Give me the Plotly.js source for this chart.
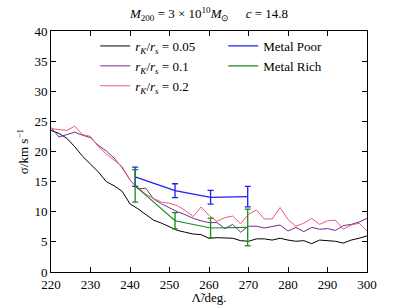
<!DOCTYPE html>
<html>
<head>
<meta charset="utf-8">
<script src="https://cdn.plot.ly/plotly-3.0.1.min.js"></script>
<style>html,body{margin:0;padding:0;background:#fff;}#chart{width:407px;height:305px;}</style>
</head>
<body>
<div id="chart"></div>
<script>
const lambdaDeg = [220,222,224,226,228,230,232,234,236,238,240,242,244,246,248,250,252,254,256,258,260,262,264,266,268,270,272,274,276,278,280,282,284,286,288,290,292,294,296,298,300];
const sigma005 = [23.5,23.0,22.2,20.8,19.2,17.9,16.6,15.0,14.3,13.4,11.3,10.5,9.6,8.6,8.1,7.5,6.9,6.6,6.3,6.2,5.6,5.7,5.7,5.6,5.2,5.1,5.5,5.5,5.3,5.6,5.3,5.1,5.2,4.7,5.3,5.2,5.1,4.8,5.3,5.6,6.0];
const sigma01 = [24.0,22.4,22.8,23.2,22.7,22.3,21.0,20.1,18.9,17.3,15.3,13.8,13.9,12.1,11.3,10.6,10.0,9.5,8.9,8.5,8.2,8.2,7.2,7.9,6.6,7.6,7.6,7.3,7.6,7.8,6.8,7.4,6.7,7.4,7.1,7.2,6.9,7.7,7.9,8.3,8.9];
const sigma02 = [23.8,23.6,23.5,24.2,22.8,22.5,20.8,19.6,18.6,17.5,15.2,14.0,12.9,12.2,11.6,11.4,11.0,10.2,9.2,10.8,9.4,8.4,9.0,9.3,8.0,9.6,10.3,8.8,8.8,10.7,8.7,7.6,8.1,8.9,7.9,8.5,8.6,7.1,7.8,8.1,6.8];
const metalLambda = [241.3,251.4,260.4,269.8];
const metalPoor = [15.8,13.5,12.4,12.5];
const metalPoorErr = [1.6,1.15,1.15,1.7];
const metalRich = [14.3,8.5,7.3,7.4];
const metalRichErr = [2.7,1.35,1.65,3.05];
const xTicks = [220,230,240,250,260,270,280,290,300];
const yTicks = [0,5,10,15,20,25,30,35,40];

const F = 'Liberation Serif';
const traces = [
  {x: lambdaDeg, y: sigma005, mode: 'lines', name: '<i>r</i><sub><i>K</i></sub>/<i>r</i><sub><i>s</i></sub> = 0.05', line: {color: '#000000', width: 1}, legend: 'legend'},
  {x: lambdaDeg, y: sigma01, mode: 'lines', name: '<i>r</i><sub><i>K</i></sub>/<i>r</i><sub><i>s</i></sub> = 0.1', line: {color: '#6f2c91', width: 1}, legend: 'legend'},
  {x: lambdaDeg, y: sigma02, mode: 'lines', name: '<i>r</i><sub><i>K</i></sub>/<i>r</i><sub><i>s</i></sub> = 0.2', line: {color: '#ec5b78', width: 1}, legend: 'legend'},
  {x: metalLambda, y: metalPoor, mode: 'lines', name: 'Metal Poor', line: {color: '#1f1fee', width: 1.2},
   error_y: {type: 'data', array: metalPoorErr, visible: true, color: '#1f1fee', thickness: 1.3, width: 3}, legend: 'legend2'},
  {x: metalLambda, y: metalRich, mode: 'lines', name: 'Metal Rich', line: {color: '#1a8a1a', width: 1.2},
   error_y: {type: 'data', array: metalRichErr, visible: true, color: '#1a8a1a', thickness: 1.3, width: 3}, legend: 'legend2'}
];

const layout = {
  width: 407, height: 305,
  margin: {l: 51, r: 40, t: 31, b: 33},
  paper_bgcolor: '#ffffff', plot_bgcolor: '#ffffff',
  font: {family: F, size: 13, color: '#000', weight: 'normal'},
  showlegend: true,
  title: {text: '<i>M</i><sub>200</sub> = 3 × 10<sup>10</sup><i>M</i><sub>⊙</sub>&#160;&#160;&#160;&#160;&#160;<i>c</i> = 14.8',
          font: {family: F, size: 13, color: '#000'}, x: 0.5, xref: 'paper', y: 0.955, yanchor: 'middle'},
  xaxis: {range: [220, 300], tickvals: xTicks, ticktext: xTicks.map(String), ticks: 'inside', ticklen: 5, tickcolor: '#000',
          showline: true, linecolor: '#000', linewidth: 1, mirror: 'ticks', showgrid: false, zeroline: false,
          tickfont: {family: F, size: 13, color: '#000'}, title: {text: 'Λ̃/deg.', font: {family: F, size: 13, color: '#000'}, standoff: 8}},
  yaxis: {range: [0, 40], tickvals: yTicks, ticktext: yTicks.map(String), ticks: 'inside', ticklen: 5, tickcolor: '#000',
          showline: true, linecolor: '#000', linewidth: 1, mirror: 'ticks', showgrid: false, zeroline: false,
          tickfont: {family: F, size: 13, color: '#000'}, title: {text: 'σ/km s<sup>−1</sup>', font: {family: F, size: 13, color: '#000'}, standoff: 2}},
  legend: {x: 0.14, y: 1.0, xanchor: 'left', yanchor: 'top', bgcolor: 'rgba(0,0,0,0)', borderwidth: 0,
           font: {family: F, size: 13, color: '#000'}, tracegroupgap: 0, itemwidth: 30},
  legend2: {x: 0.545, y: 1.0, xanchor: 'left', yanchor: 'top', bgcolor: 'rgba(0,0,0,0)', borderwidth: 0,
            font: {family: F, size: 13, color: '#000'}, itemwidth: 30}
};

Plotly.newPlot('chart', traces, layout, {displayModeBar: false, staticPlot: true});
</script>
</body>
</html>
